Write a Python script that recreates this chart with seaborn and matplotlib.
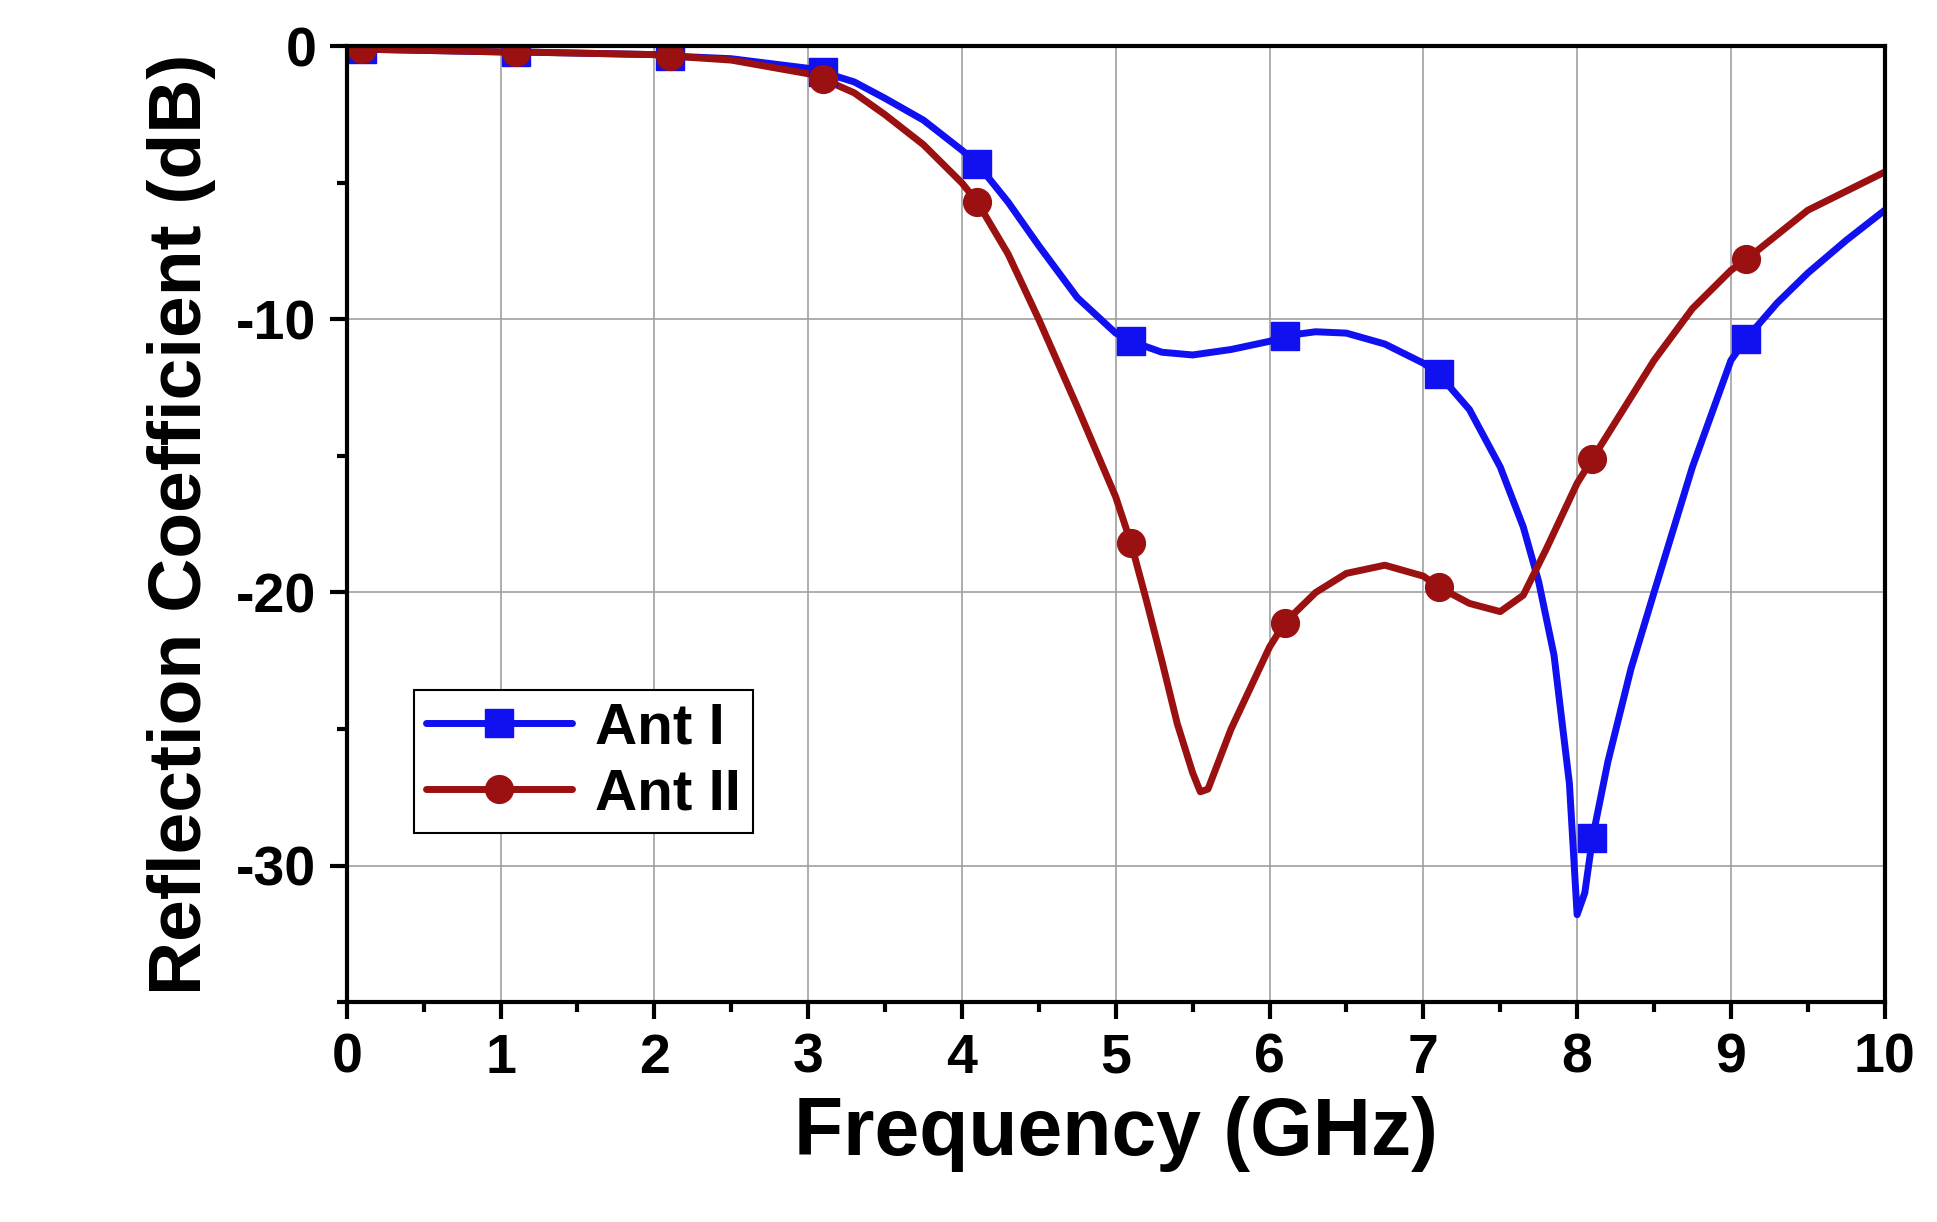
import numpy as np
import pandas as pd
import seaborn as sns
import matplotlib
matplotlib.use("Agg")
import matplotlib.pyplot as plt
from matplotlib.lines import Line2D
from matplotlib.ticker import MultipleLocator

sns.set_style("white")
plt.rcParams['font.family'] = ['Liberation Sans', 'DejaVu Sans']
plt.rcParams['axes.unicode_minus'] = False
plt.rcParams['text.color'] = 'black'
plt.rcParams['axes.labelcolor'] = 'black'
plt.rcParams['xtick.color'] = 'black'
plt.rcParams['ytick.color'] = 'black'

freq1 = [0, 0.1, 1, 1.1, 2, 2.1, 2.5, 3, 3.1, 3.3, 3.5, 3.75, 4, 4.1, 4.3, 4.5, 4.75, 5, 5.1, 5.3, 5.5, 5.75, 6, 6.1, 6.3, 6.5, 6.75, 7, 7.1, 7.3, 7.5, 7.65, 7.75, 7.85, 7.95, 8, 8.05, 8.1, 8.2, 8.35, 8.5, 8.75, 9, 9.1, 9.3, 9.5, 9.75, 10]
ant1 = [-0.1, -0.1, -0.2, -0.2, -0.3, -0.35, -0.45, -0.8, -0.95, -1.3, -1.9, -2.7, -3.8, -4.3, -5.7, -7.3, -9.2, -10.5, -10.8, -11.2, -11.3, -11.1, -10.8, -10.6, -10.45, -10.5, -10.9, -11.6, -12.0, -13.3, -15.4, -17.6, -19.6, -22.3, -27.0, -31.8, -31.0, -29.0, -26.2, -22.8, -20.0, -15.4, -11.5, -10.7, -9.4, -8.3, -7.1, -6.0]
freq2 = [0, 0.1, 1, 1.1, 2, 2.1, 2.5, 3, 3.1, 3.3, 3.5, 3.75, 4, 4.1, 4.3, 4.5, 4.75, 5, 5.1, 5.2, 5.3, 5.4, 5.5, 5.55, 5.6, 5.75, 6, 6.1, 6.3, 6.5, 6.75, 7, 7.1, 7.3, 7.5, 7.65, 7.8, 8, 8.1, 8.3, 8.5, 8.75, 9, 9.1, 9.3, 9.5, 9.75, 10]
ant2 = [-0.1, -0.1, -0.2, -0.2, -0.3, -0.35, -0.5, -1.0, -1.2, -1.7, -2.5, -3.6, -5.0, -5.7, -7.6, -10.0, -13.2, -16.5, -18.2, -20.3, -22.5, -24.8, -26.6, -27.3, -27.2, -25.0, -22.0, -21.1, -20.0, -19.3, -19.0, -19.4, -19.8, -20.4, -20.7, -20.1, -18.4, -16.0, -15.1, -13.3, -11.5, -9.6, -8.2, -7.8, -6.9, -6.0, -5.3, -4.6]
mk1_x = [0.1, 1.1, 2.1, 3.1, 4.1, 5.1, 6.1, 7.1, 8.1, 9.1]
mk1_y = [-0.1, -0.2, -0.35, -0.95, -4.3, -10.8, -10.6, -12.0, -29.0, -10.7]
mk2_x = [0.1, 1.1, 2.1, 3.1, 4.1, 5.1, 6.1, 7.1, 8.1, 9.1]
mk2_y = [-0.1, -0.2, -0.35, -1.2, -5.7, -18.2, -21.1, -19.8, -15.1, -7.8]

c1, c2 = '#1010f0', '#9b1010'
fig = plt.figure(figsize=(19.37, 12.22), dpi=100)
ax = fig.add_axes([0.179, 0.18, 0.794, 0.782])
ax.grid(True, color='#a0a0a0', lw=1.2)
sns.lineplot(x=freq1, y=ant1, ax=ax, color=c1, lw=5, sort=False)
sns.lineplot(x=freq2, y=ant2, ax=ax, color=c2, lw=5, sort=False)
ax.plot(mk1_x, mk1_y, 's', color=c1, ms=20, ls='none')
ax.plot(mk2_x, mk2_y, 'o', color=c2, ms=20, ls='none')
ax.set_xlim(0, 10)
ax.set_ylim(-35, 0)
ax.xaxis.set_major_locator(MultipleLocator(1))
ax.xaxis.set_minor_locator(MultipleLocator(0.5))
ax.yaxis.set_major_locator(MultipleLocator(10))
ax.yaxis.set_minor_locator(MultipleLocator(5))
ax.tick_params(which='both', bottom=True, left=True, top=False, right=False)
ax.tick_params(which='major', direction='out', length=12, width=3, labelsize=40, pad=10)
ax.tick_params(which='minor', direction='out', length=7, width=3)
for t in ax.get_xticklabels() + ax.get_yticklabels():
    t.set_fontweight('bold')
for s in ax.spines.values():
    s.set_linewidth(3); s.set_color('black')
ax.set_xlabel('Frequency (GHz)', fontsize=58, fontweight='bold', labelpad=8)
ax.set_ylabel('Reflection Coefficient (dB)', fontsize=54, fontweight='bold', labelpad=14)
h = [Line2D([], [], color=c1, lw=5, marker='s', ms=20),
     Line2D([], [], color=c2, lw=5, marker='o', ms=20)]
leg = ax.legend(h, ['Ant I', 'Ant II'], loc='lower left', bbox_to_anchor=(0.044, 0.177),
                prop={'size': 42, 'weight': 'bold'}, fancybox=False, framealpha=1,
                edgecolor='black', handlelength=2.5, borderpad=0.2, labelspacing=0.2,
                handletextpad=0.4, borderaxespad=0)
leg.get_frame().set_linewidth(1.5)
fig.savefig('out.png', dpi=100)
